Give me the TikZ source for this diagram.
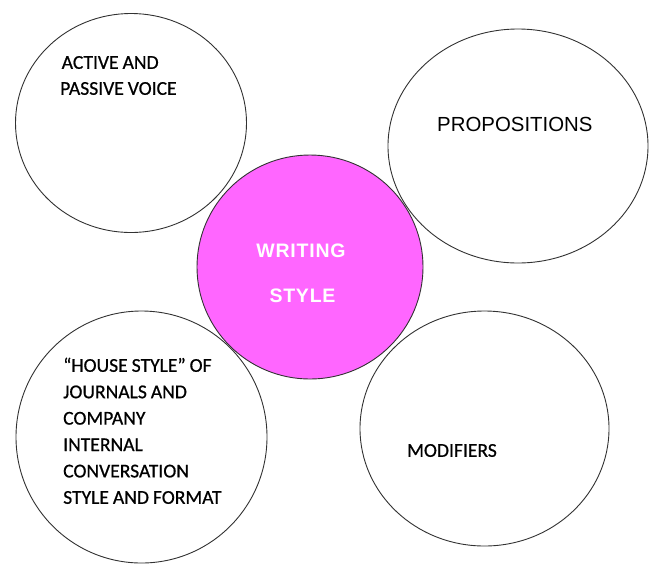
\documentclass[tikz,border=0pt]{standalone}
\usepackage{fontspec}
\usetikzlibrary{shapes.geometric}
\newfontfamily\calib[FakeBold=0.6,WordSpace=0.9]{Carlito}
\newfontfamily\arialf{Liberation Sans}
\newfontfamily\arialhub[LetterSpace=4]{Liberation Sans Bold}
\definecolor{magentafill}{RGB}{255,102,255}
\definecolor{edgegray}{RGB}{50,50,50}
\tikzset{
  bubble/.style={ellipse, draw=edgegray, line width=0.9pt, fill=white, inner sep=0pt},
  hub/.style={ellipse, draw=edgegray, line width=0.9pt, fill=magentafill, inner sep=0pt},
  bodytext/.style={anchor=base west, inner sep=0pt, font=\calib\fontsize{19.6}{19.6}\selectfont, text=black},
  hubtext/.style={anchor=base, inner sep=0pt, font=\arialhub\fontsize{19.5}{19.5}\selectfont, text=white},
}
\begin{document}
\begin{tikzpicture}[x=1pt,y=-1pt]
\useasboundingbox (0,0) rectangle (652,566);
% outer bubbles
\node[bubble, minimum width=231pt, minimum height=219pt] (tl) at (131,123) {};
\node[bubble, minimum width=260pt, minimum height=234pt] (tr) at (518,146) {};
\node[bubble, minimum width=251pt, minimum height=252pt] (bl) at (141.5,437) {};
\node[bubble, minimum width=249pt, minimum height=235pt] (br) at (484.5,428.5) {};
% hub
\node[hub, minimum width=226pt, minimum height=224pt] (hub) at (310,267) {};
% texts
\node[bodytext] (tl1) at (61.5,68.8) {ACTIVE AND};
\node[bodytext] (tl2) at (60,94.8) {PASSIVE VOICE};
\node[anchor=base west, inner sep=0pt, font=\arialf\fontsize{20.4}{20.4}\selectfont] (trt) at (437,131.2) {PROPOSITIONS};
\node[hubtext] (h1) at (301,257.5) {WRITING};
\node[hubtext] (h2) at (302.5,302.4) {STYLE};
\node[bodytext] (bl1) at (63,371.8) {“HOUSE STYLE” OF};
\node[bodytext] (bl2) at (63,398.2) {JOURNALS AND};
\node[bodytext] (bl3) at (63,424.6) {COMPANY};
\node[bodytext] (bl4) at (63,451) {INTERNAL};
\node[bodytext] (bl5) at (63,477.4) {CONVERSATION};
\node[bodytext] (bl6) at (63,503.8) {STYLE AND FORMAT};
\node[bodytext] (brt) at (407,456.8) {MODIFIERS};
\end{tikzpicture}
\end{document}
